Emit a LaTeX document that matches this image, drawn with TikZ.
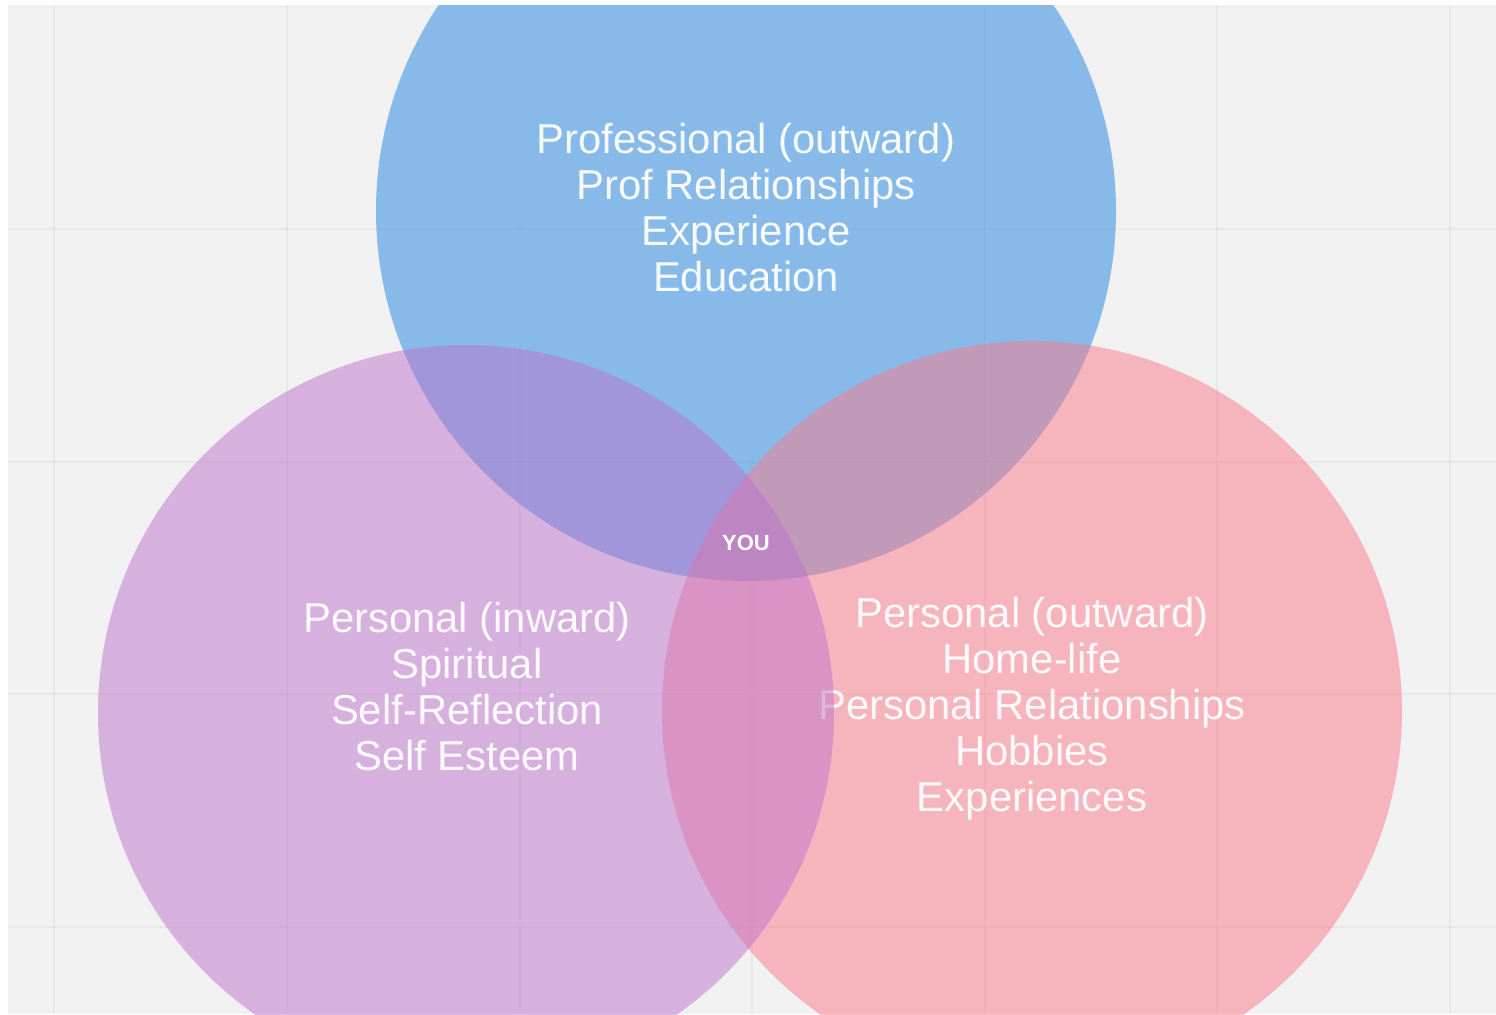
\documentclass[tikz,border=0pt]{standalone}
\usepackage{fontspec}
\setmainfont{Liberation Sans}
\definecolor{bgrey}{HTML}{F1F1F1}
\definecolor{cblue}{RGB}{31,133,227}
\definecolor{cpink}{RGB}{251,121,139}
\definecolor{cpurple}{RGB}{189,115,205}
\begin{document}
\begin{tikzpicture}[x=0.5pt,y=-0.5pt,
  ring/.style={fill opacity=0.5},
  lbl/.style={text=white, text opacity=0.93, font=\fontsize{20.9}{23}\selectfont, align=center, anchor=base, inner sep=0pt},
  gridline/.style={black, opacity=0.035, line width=1pt}]
\useasboundingbox (0,0) rectangle (1496,1014);
\fill[white] (0,0) rectangle (1496,1014);
\fill[bgrey] (8,5) rectangle (1496,1014);
\begin{scope}
\clip (8,5) rectangle (1496,1014);
\foreach \gx in {54,287,519.5,752,984.5,1217,1450} {\draw[gridline] (\gx,5) -- (\gx,1014);}
\foreach \gy in {229,461.5,694,926.5} {\draw[gridline] (8,\gy) -- (1496,\gy);}
\fill[cblue, ring] (746,211) circle (370);
\node[lbl] (prof) at (746,291) {Professional (outward)\\Prof Relationships\\Experience\\Education};
\fill[cpink, ring] (1032,711) circle (370);
\node[lbl] (pout) at (1032,811) {Personal (outward)\\Home-life\\Personal Relationships\\Hobbies\\Experiences};
\fill[cpurple, ring] (466,713) circle (368);
\node[lbl] (pin) at (467,770) {Personal (inward)\\Spiritual\\Self-Reflection\\Self Esteem};
\node[text=white, font=\fontsize{11}{13}\selectfont\bfseries, inner sep=0pt] (you) at (746,543) {YOU};
\end{scope}
\end{tikzpicture}
\end{document}
